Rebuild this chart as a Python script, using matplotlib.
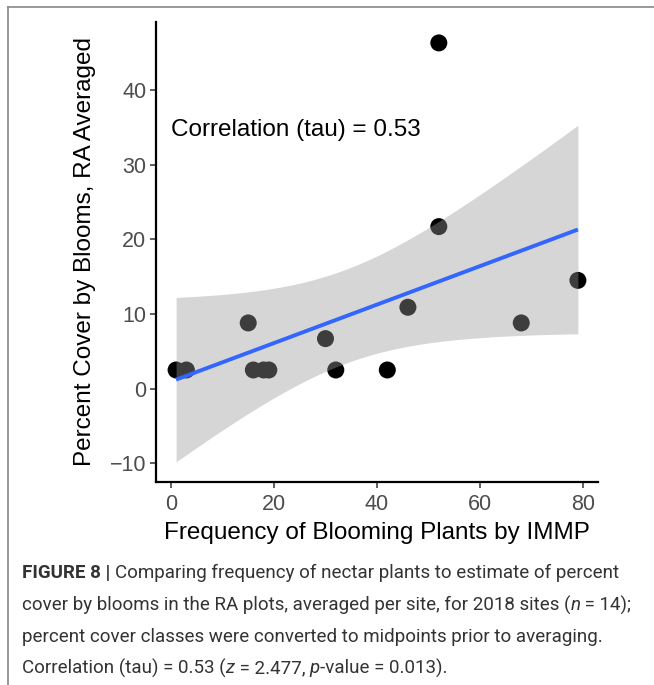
import numpy as np
import matplotlib
matplotlib.use('Agg')
import matplotlib.pyplot as plt
from matplotlib.lines import Line2D
from matplotlib import font_manager


# frequency of blooming plants (IMMP) and averaged percent cover (RA)
freq = [1, 3, 15, 16, 18, 19, 30, 32, 42, 46, 52, 52, 68, 79]
cover = [2.5, 2.5, 8.8, 2.5, 2.5, 2.5, 6.7, 2.5, 2.5, 10.9, 21.7, 46.3, 8.8, 14.5]

x_ticks = [0, 20, 40, 60, 80]
y_ticks = [-10, 0, 10, 20, 30, 40]

tau_label = 'Correlation (tau) = 0.53'
T_975_DF12 = 2.179  # t quantile for the 95% band, n - 2 = 12

caption = [
    [('FIGURE 8 | ', 'bold', 'normal'),
     ('Comparing frequency of nectar plants to estimate of percent', 'normal', 'normal')],
    [('cover by blooms in the RA plots, averaged per site, for 2018 sites (', 'normal', 'normal'),
     ('n', 'normal', 'italic'), (' = 14);', 'normal', 'normal')],
    [('percent cover classes were converted to midpoints prior to averaging.', 'normal', 'normal')],
    [('Correlation (tau) = 0.53 (', 'normal', 'normal'), ('z', 'normal', 'italic'),
     (' = 2.477, ', 'normal', 'normal'), ('p', 'normal', 'italic'),
     ('-value = 0.013).', 'normal', 'normal')],
]


def pick_font(names):
    have = {f.name for f in font_manager.fontManager.ttflist}
    for n in names:
        if n in have:
            return n
    return 'DejaVu Sans'


main_font = pick_font(['Liberation Sans', 'Arial', 'DejaVu Sans'])
cap_font = pick_font(['Liberation Sans Narrow', 'Roboto', 'Liberation Sans'])


def lm_band(x, y, grid):
    x = np.asarray(x, float)
    y = np.asarray(y, float)
    slope, icpt = np.polyfit(x, y, 1)
    resid = y - (icpt + slope * x)
    s = np.sqrt(np.sum(resid ** 2) / (len(x) - 2))
    sxx = np.sum((x - x.mean()) ** 2)
    fit = icpt + slope * grid
    se = s * np.sqrt(1 / len(x) + (grid - x.mean()) ** 2 / sxx)
    return fit, fit - T_975_DF12 * se, fit + T_975_DF12 * se


def draw_segments(fig, renderer, x0, y, segs, size):
    x = x0
    for text, weight, style in segs:
        t = fig.text(x, y, text, fontsize=size, fontweight=weight, fontstyle=style,
                     family=cap_font, color='#333333', va='center', ha='left')
        bb = t.get_window_extent(renderer=renderer)
        x += bb.width / fig.bbox.width


fig = plt.figure(figsize=(6.54, 6.85), dpi=100)
ax = fig.add_axes([156 / 654, 1 - 482 / 685, 442 / 654, 460 / 685])

ax.scatter(freq, cover, s=150, color='black', edgecolors='none', zorder=2)

grid = np.linspace(min(freq), max(freq), 200)
fit, lo, hi = lm_band(freq, cover, grid)
ax.fill_between(grid, lo, hi, color='#999999', alpha=0.4, linewidth=0, zorder=3)
ax.plot(grid, fit, color='#3366FF', lw=2.8, zorder=4, solid_capstyle='butt')

ax.text(0, 34.6, tau_label, fontsize=17.5, family=main_font, va='center', ha='left')

ax.set_xlim(-2.9, 82.9)
ax.set_ylim(-12.5, 49.1)
ax.set_xticks(x_ticks)
ax.set_yticks(y_ticks)
ax.set_yticklabels(['\u221210' if v < 0 else str(v) for v in y_ticks])
for side in ['top', 'right']:
    ax.spines[side].set_visible(False)
for side in ['left', 'bottom']:
    ax.spines[side].set_linewidth(1.6)
ax.tick_params(length=4, width=1.1, color='#333333', labelcolor='#4D4D4D',
               labelsize=15.5)
ax.tick_params(axis='x', pad=5)
ax.tick_params(axis='y', pad=3)
for lbl in ax.get_xticklabels() + ax.get_yticklabels():
    lbl.set_family(main_font)

ax.set_xlabel('Frequency of Blooming Plants by IMMP', fontsize=17.5,
              family=main_font, labelpad=5)
ax.set_ylabel('Percent Cover by Blooms, RA Averaged', fontsize=17.5,
              family=main_font, labelpad=10)

# page frame (left and top edges)
fig.add_artist(Line2D([8 / 654, 8 / 654], [0, 1 - 7 / 685], color='#888888', lw=1.2))
fig.add_artist(Line2D([8 / 654, 1], [1 - 7 / 685, 1 - 7 / 685], color='#888888', lw=1.2))

fig.canvas.draw()
renderer = fig.canvas.get_renderer()
line_y = [573, 605, 637, 668]
for ypx, segs in zip(line_y, caption):
    draw_segments(fig, renderer, 22 / 654, 1 - ypx / 685, segs, 13.5)

fig.savefig('out.png', dpi=100)
